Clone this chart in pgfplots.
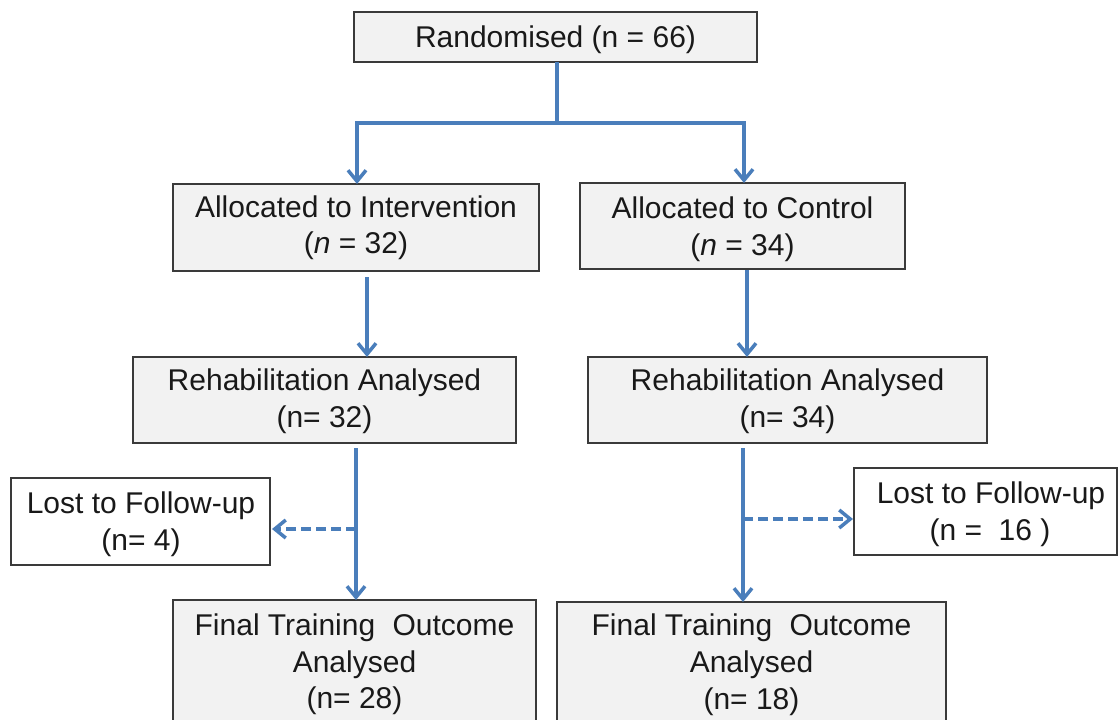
\documentclass[border=0pt]{standalone}
\usepackage{pgfplots}
\pgfplotsset{compat=1.18}
\usepackage{fontspec}
\setmainfont{Liberation Sans}
\usetikzlibrary{arrows.meta}
\definecolor{arr}{HTML}{4A7EBB}
\definecolor{boxfill}{HTML}{F2F2F2}
\definecolor{boxline}{HTML}{3A3A3A}
\newcommand{\fs}{\fontsize{15}{18}\selectfont}
\begin{document}
\begin{tikzpicture}
\begin{axis}[name=ax, width=559.5pt, height=359.5pt, scale only axis, hide axis,
  xmin=0, xmax=1119, ymin=0, ymax=719, y dir=reverse, clip=false]
% boxes
\tikzset{gbox/.style={draw=boxline, fill=boxfill, line width=0.85pt},
         wbox/.style={draw=boxline, fill=white, line width=0.85pt},
         txt/.style={anchor=base, font=\fs, text=black!90, inner sep=0pt},
         arrl/.style={arr, line width=1.75pt},
         tip/.style={-{Straight Barb[length=5.5pt,width=9pt]}}}
\draw[gbox] (axis cs:354,12) rectangle (axis cs:757,62);
\draw[gbox] (axis cs:173,184) rectangle (axis cs:539,271);
\draw[gbox] (axis cs:580,183) rectangle (axis cs:905,269);
\draw[gbox] (axis cs:133,357) rectangle (axis cs:516,443);
\draw[gbox] (axis cs:588,357) rectangle (axis cs:987,443);
\draw[wbox] (axis cs:11,478) rectangle (axis cs:270,565);
\draw[wbox] (axis cs:854,468) rectangle (axis cs:1117,555);
\draw[gbox] (axis cs:173,600) rectangle (axis cs:536,740);
\draw[gbox] (axis cs:557,602) rectangle (axis cs:946,740);
% connectors
\addplot[arrl, no marks] coordinates {(557,62) (557,123)};
\addplot[arrl, no marks, {Straight Barb[length=5.5pt,width=9pt]}-{Straight Barb[length=5.5pt,width=9pt]}] coordinates {(357,184) (357,123) (744,123) (744,183)};
\addplot[arrl, no marks, tip] coordinates {(367,277) (367,357)};
\addplot[arrl, no marks, tip] coordinates {(747,270) (747,357)};
\addplot[arrl, no marks, tip] coordinates {(356,448) (356,600)};
\addplot[arrl, no marks, tip, dash pattern=on 5pt off 2.5pt] coordinates {(356,529) (272,529)};
\addplot[arrl, no marks, tip] coordinates {(743,448) (743,602)};
\addplot[arrl, no marks, tip, dash pattern=on 5pt off 2.5pt] coordinates {(743,519) (853,519)};
% texts
\node[txt] at (axis cs:555.5,47) {Randomised (n = 66)};
\node[txt] at (axis cs:356,217) {Allocated to Intervention};
\node[txt] at (axis cs:356,253) {(\textit{n} = 32)};
\node[txt] at (axis cs:742.5,218) {Allocated to Control};
\node[txt] at (axis cs:742.5,255) {(\textit{n} = 34)};
\node[txt] at (axis cs:324.5,390) {Rehabilitation Analysed};
\node[txt] at (axis cs:324.5,427) {(n= 32)};
\node[txt] at (axis cs:787.5,390) {Rehabilitation Analysed};
\node[txt] at (axis cs:787.5,427) {(n= 34)};
\node[txt] at (axis cs:141,513) {Lost to Follow-up};
\node[txt] at (axis cs:141,550) {(n= 4)};
\node[txt] at (axis cs:991,503) {Lost to Follow-up};
\node[txt] at (axis cs:990,540) {(n =\ \ 16 )};
\node[txt] at (axis cs:354.5,635) {Final Training\hspace{0.3em} Outcome};
\node[txt] at (axis cs:354.5,672) {Analysed};
\node[txt] at (axis cs:354.5,708) {(n= 28)};
\node[txt] at (axis cs:751.5,635) {Final Training\hspace{0.3em} Outcome};
\node[txt] at (axis cs:751.5,672) {Analysed};
\node[txt] at (axis cs:751.5,709) {(n= 18)};
\end{axis}
\pgfresetboundingbox
\path[use as bounding box] (ax.south west) rectangle (ax.north east);
\end{tikzpicture}
\end{document}
